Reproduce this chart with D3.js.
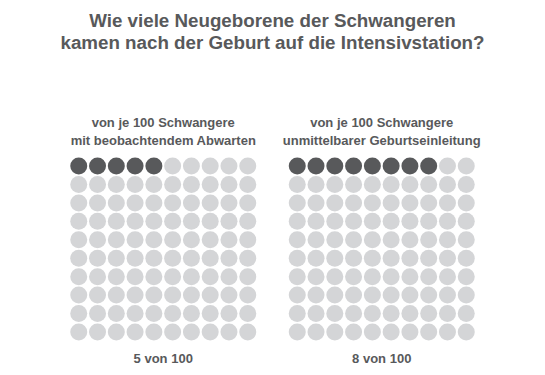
<!DOCTYPE html>
<html>
<head>
<meta charset="utf-8">
<script src="https://cdn.jsdelivr.net/npm/d3@7"></script>
<style>
  body { margin: 0; background: #fff; }
  text { font-family: "Liberation Sans", Arial, sans-serif; font-weight: bold; fill: #58595b; }
</style>
</head>
<body>
<div id="chart"></div>
<script>
const titleLines = [
  "Wie viele Neugeborene der Schwangeren",
  "kamen nach der Geburt auf die Intensivstation?",
];
const groupLabels = [
  ["von je 100 Schwangere", "mit beobachtendem Abwarten"],
  ["von je 100 Schwangere", "unmittelbarer Geburtseinleitung"],
];
const affected = [5, 8];
const total = 100;
const resultLabels = ["5 von 100", "8 von 100"];

const width = 545;
const height = 375;
const cols = 10;
const rows = total / cols;

const svg = d3
  .select("#chart")
  .append("svg")
  .attr("width", width)
  .attr("height", height);

// Title
svg
  .append("text")
  .attr("text-anchor", "middle")
  .style("font-size", "18.75px")
  .selectAll("tspan")
  .data(titleLines)
  .enter()
  .append("tspan")
  .attr("x", width / 2)
  .attr("y", (d, i) => 27 + i * 22)
  .text((d) => d);

// one panel per group
const panelX = d3.scaleBand().domain(d3.range(affected.length)).range([54, 491]);

affected.forEach((n, gi) => {
  const cx = panelX(gi) + panelX.bandwidth() / 2;
  const gridW = 169;
  const gridH = 166;

  const x = d3.scaleLinear().domain([0, cols - 1]).range([cx - gridW / 2, cx + gridW / 2]);
  const y = d3.scaleLinear().domain([0, rows - 1]).range([166, 166 + gridH]);

  const g = svg.append("g");

  g.append("text")
    .attr("text-anchor", "middle")
    .style("font-size", "13px")
    .selectAll("tspan")
    .data(groupLabels[gi])
    .enter()
    .append("tspan")
    .attr("x", cx)
    .attr("y", (d, i) => 127 + i * 17.5)
    .text((d) => d);

  g.selectAll("circle")
    .data(d3.range(total))
    .enter()
    .append("circle")
    .attr("cx", (d) => x(d % cols))
    .attr("cy", (d) => y(Math.floor(d / cols)))
    .attr("r", 8.5)
    .attr("fill", (d) => (d < n ? "#58595b" : "#d4d5d7"));

  g.append("text")
    .attr("x", cx)
    .attr("y", 362.5)
    .attr("text-anchor", "middle")
    .style("font-size", "13px")
    .text(resultLabels[gi]);
});
</script>
</body>
</html>
